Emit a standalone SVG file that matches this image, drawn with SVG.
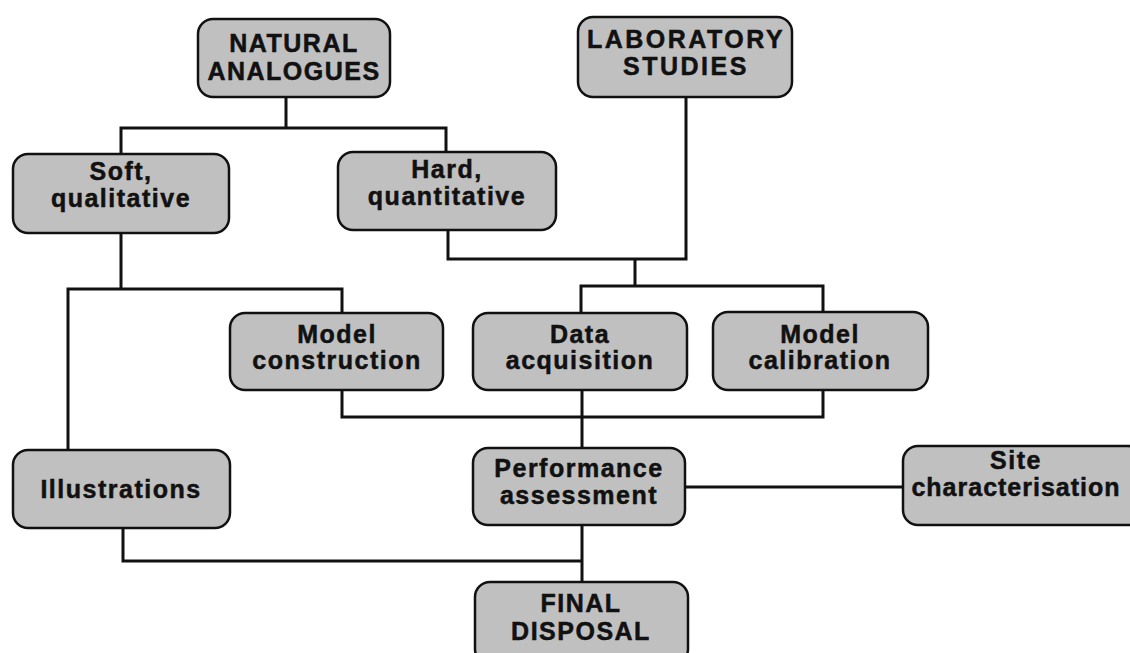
<svg xmlns="http://www.w3.org/2000/svg" width="1130" height="653" viewBox="0 0 1130 653">
<style>
.box{fill:#c0c0c0;stroke:#111;stroke-width:2.5}
.t{font-family:"Liberation Sans",Arial,sans-serif;font-weight:bold;font-size:25px;letter-spacing:1.5px;fill:#111;stroke:#111;stroke-width:0.5;text-anchor:middle}
.c{fill:none;stroke:#111;stroke-width:3;stroke-linejoin:miter;stroke-linecap:square}
</style>
<rect width="1130" height="653" fill="#fff"/>
<g id="connectors">
<path class="c" d="M286 97V128M121 128H446M121 128V154M446 128V152"/>
<path class="c" d="M686 97V259M448 230V259H686M635 259V286M581 286H823M581 286V313M823 286V312"/>
<path class="c" d="M121 233V289M68 289H342M68 289V450M342 289V313"/>
<path class="c" d="M342 390V417H823V390M582 390V448"/>
<path class="c" d="M582 525V582M123 528V561H582"/>
<path class="c" d="M685 487H903"/>
</g>
<g id="natural-analogues">
<rect class="box" x="198" y="19" width="192" height="78" rx="15"/>
<text class="t" x="294" y="52">NATURAL</text>
<text class="t" x="294" y="80">ANALOGUES</text>
</g>
<g id="laboratory-studies">
<rect class="box" x="578" y="17" width="214" height="80" rx="15"/>
<text class="t" x="686" y="48" style="letter-spacing:2.5px">LABORATORY</text>
<text class="t" x="686" y="75" style="letter-spacing:2.5px">STUDIES</text>
</g>
<g id="soft-qualitative">
<rect class="box" x="13" y="154" width="216" height="79" rx="15"/>
<text class="t" x="121" y="180">Soft,</text>
<text class="t" x="121" y="207">qualitative</text>
</g>
<g id="hard-quantitative">
<rect class="box" x="338" y="152" width="218" height="78" rx="15"/>
<text class="t" x="447" y="178">Hard,</text>
<text class="t" x="447" y="205">quantitative</text>
</g>
<g id="model-construction">
<rect class="box" x="230" y="313" width="213" height="77" rx="15"/>
<text class="t" x="337" y="343">Model</text>
<text class="t" x="337" y="369">construction</text>
</g>
<g id="data-acquisition">
<rect class="box" x="473" y="313" width="214" height="77" rx="15"/>
<text class="t" x="580" y="343">Data</text>
<text class="t" x="580" y="369">acquisition</text>
</g>
<g id="model-calibration">
<rect class="box" x="713" y="312" width="215" height="78" rx="15"/>
<text class="t" x="820" y="343">Model</text>
<text class="t" x="820" y="369">calibration</text>
</g>
<g id="illustrations">
<rect class="box" x="13" y="450" width="217" height="78" rx="15"/>
<text class="t" x="121" y="498">Illustrations</text>
</g>
<g id="performance-assessment">
<rect class="box" x="473" y="448" width="212" height="77" rx="15"/>
<text class="t" x="579" y="477">Performance</text>
<text class="t" x="579" y="504">assessment</text>
</g>
<g id="site-characterisation">
<rect class="box" x="903" y="446" width="240" height="79" rx="15"/>
<text class="t" x="1016" y="469">Site</text>
<text class="t" x="1016" y="496" style="letter-spacing:1px">characterisation</text>
</g>
<g id="final-disposal">
<rect class="box" x="475" y="582" width="213" height="82" rx="15"/>
<text class="t" x="581" y="612">FINAL</text>
<text class="t" x="581" y="640">DISPOSAL</text>
</g>
</svg>
